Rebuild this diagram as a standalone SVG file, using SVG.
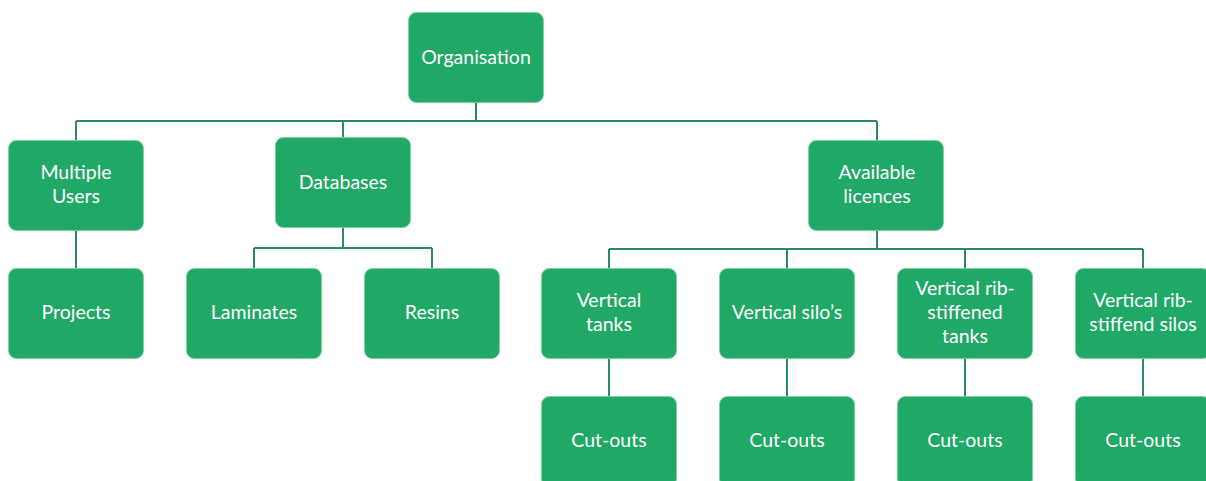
<svg xmlns="http://www.w3.org/2000/svg" width="1206" height="481" viewBox="0 0 1206 481">
<style>
.box{fill:#1fa866;stroke:#7fcfa3;stroke-width:1}
.lbl{font-family:Lato,"Liberation Sans",sans-serif;font-size:19.5px;fill:#ffffff;text-anchor:middle}
.conn{stroke:#2a8c5c;stroke-width:2;fill:none}
</style>
<rect width="1206" height="481" fill="#ffffff"/>
<g id="connectors">
<path class="conn" d="M476,102 V121 M76,121 H877 M76,121 V141 M343,121 V138 M877,121 V141"/>
<path class="conn" d="M76,230 V269"/>
<path class="conn" d="M343,227 V248 M254,248 H432 M254,248 V269 M432,248 V269"/>
<path class="conn" d="M877,230 V249 M609,249 H1143 M609,249 V269 M787,249 V269 M965,249 V269 M1143,249 V269"/>
<path class="conn" d="M609,358 V397 M787,358 V397 M965,358 V397 M1143,358 V397"/>
</g>
<g id="organisation"><rect class="box" x="408.5" y="12.5" width="135" height="90" rx="8"/><text class="lbl" x="476" y="64">Organisation</text></g>
<g id="multiple-users"><rect class="box" x="8.5" y="140.5" width="135" height="90" rx="8"/><text class="lbl" x="76" y="179">Multiple</text><text class="lbl" x="76" y="203">Users</text></g>
<g id="databases"><rect class="box" x="275.5" y="137.5" width="135" height="90" rx="8"/><text class="lbl" x="343" y="189">Databases</text></g>
<g id="available-licences"><rect class="box" x="808.5" y="140.5" width="135" height="90" rx="8"/><text class="lbl" x="877" y="179">Available</text><text class="lbl" x="877" y="203">licences</text></g>
<g id="projects"><rect class="box" x="8.5" y="268.5" width="135" height="90" rx="8"/><text class="lbl" x="76" y="319">Projects</text></g>
<g id="laminates"><rect class="box" x="186.5" y="268.5" width="135" height="90" rx="8"/><text class="lbl" x="254" y="319">Laminates</text></g>
<g id="resins"><rect class="box" x="364.5" y="268.5" width="135" height="90" rx="8"/><text class="lbl" x="432" y="319">Resins</text></g>
<g id="vertical-tanks"><rect class="box" x="541.5" y="268.5" width="135" height="90" rx="8"/><text class="lbl" x="609" y="307">Vertical</text><text class="lbl" x="609" y="331">tanks</text></g>
<g id="vertical-silos"><rect class="box" x="719.5" y="268.5" width="135" height="90" rx="8"/><text class="lbl" x="787" y="319">Vertical silo’s</text></g>
<g id="vertical-rib-stiffened-tanks"><rect class="box" x="897.5" y="268.5" width="135" height="90" rx="8"/><text class="lbl" x="965" y="295">Vertical rib-</text><text class="lbl" x="965" y="319">stiffened</text><text class="lbl" x="965" y="343">tanks</text></g>
<g id="vertical-rib-stiffend-silos"><rect class="box" x="1075.5" y="268.5" width="135" height="90" rx="8"/><text class="lbl" x="1143" y="307">Vertical rib-</text><text class="lbl" x="1143" y="331">stiffend silos</text></g>
<g id="cutouts-1"><rect class="box" x="541.5" y="396.5" width="135" height="90" rx="8"/><text class="lbl" x="609" y="447">Cut-outs</text></g>
<g id="cutouts-2"><rect class="box" x="719.5" y="396.5" width="135" height="90" rx="8"/><text class="lbl" x="787" y="447">Cut-outs</text></g>
<g id="cutouts-3"><rect class="box" x="897.5" y="396.5" width="135" height="90" rx="8"/><text class="lbl" x="965" y="447">Cut-outs</text></g>
<g id="cutouts-4"><rect class="box" x="1075.5" y="396.5" width="135" height="90" rx="8"/><text class="lbl" x="1143" y="447">Cut-outs</text></g>
</svg>
